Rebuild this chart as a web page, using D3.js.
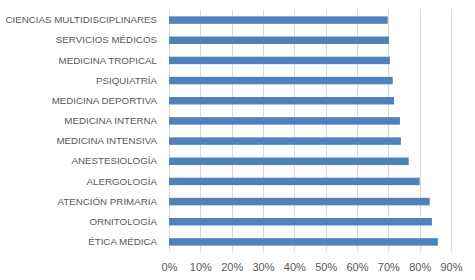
<!DOCTYPE html>
<html>
<head>
<meta charset="utf-8">
<script src="https://cdn.jsdelivr.net/npm/d3@7"></script>
<style>
  body { margin: 0; background: #fff; }
  text { font-family: "Liberation Sans", Arial, sans-serif; fill: #595959; }
</style>
</head>
<body>
<svg id="chart" width="475" height="280"></svg>
<script>
// categories, top to bottom
var categories = [
  "CIENCIAS MULTIDISCIPLINARES",
  "SERVICIOS MÉDICOS",
  "MEDICINA TROPICAL",
  "PSIQUIATRÍA",
  "MEDICINA DEPORTIVA",
  "MEDICINA INTERNA",
  "MEDICINA INTENSIVA",
  "ANESTESIOLOGÍA",
  "ALERGOLOGÍA",
  "ATENCIÓN PRIMARIA",
  "ORNITOLOGÍA",
  "ÉTICA MÉDICA"
];
var values = [0.698, 0.702, 0.705, 0.714, 0.718, 0.737, 0.740, 0.765, 0.800, 0.832, 0.839, 0.858];
var xTicks = [0, 0.1, 0.2, 0.3, 0.4, 0.5, 0.6, 0.7, 0.8, 0.9];

var margin = { top: 10, right: 24, bottom: 28, left: 169 };
var w = 475, h = 280;
var svg = d3.select("#chart");

var x = d3.scaleLinear().domain([0, 0.9]).range([margin.left, w - margin.right]);
var y = d3.scaleBand().domain(categories).range([margin.top, h - margin.bottom]).paddingInner(0.63).paddingOuter(0.315);

// gridlines
svg.append("g")
  .selectAll("line")
  .data(xTicks)
  .enter()
  .append("line")
  .attr("x1", function (d) { return Math.round(x(d)) + 0.5; })
  .attr("x2", function (d) { return Math.round(x(d)) + 0.5; })
  .attr("y1", margin.top)
  .attr("y2", h - margin.bottom)
  .attr("stroke", "#d9d9d9")
  .attr("stroke-width", 1);

// bars
svg.append("g")
  .selectAll("rect")
  .data(values)
  .enter()
  .append("rect")
  .attr("x", x(0))
  .attr("y", function (d, i) { return y(categories[i]); })
  .attr("width", function (d) { return x(d) - x(0); })
  .attr("height", y.bandwidth())
  .attr("fill", "#4f81bd");

// x axis labels
var xAxis = d3.axisBottom(x).tickValues(xTicks).tickFormat(d3.format(".0%")).tickSize(0).tickPadding(11);
svg.append("g")
  .attr("transform", "translate(0," + (h - margin.bottom) + ")")
  .call(xAxis)
  .call(function (g) { g.select(".domain").remove(); })
  .selectAll("text")
  .style("font-size", "11px")
  .style("font-family", "Liberation Sans, Arial, sans-serif")
  .attr("fill", "#595959");

// y axis labels
var yAxis = d3.axisLeft(y).tickSize(0).tickPadding(12);
svg.append("g")
  .attr("transform", "translate(" + margin.left + ",0)")
  .call(yAxis)
  .call(function (g) { g.select(".domain").remove(); })
  .selectAll("text")
  .style("font-size", "9.75px")
  .style("font-family", "Liberation Sans, Arial, sans-serif")
  .attr("fill", "#595959");
</script>
</body>
</html>
